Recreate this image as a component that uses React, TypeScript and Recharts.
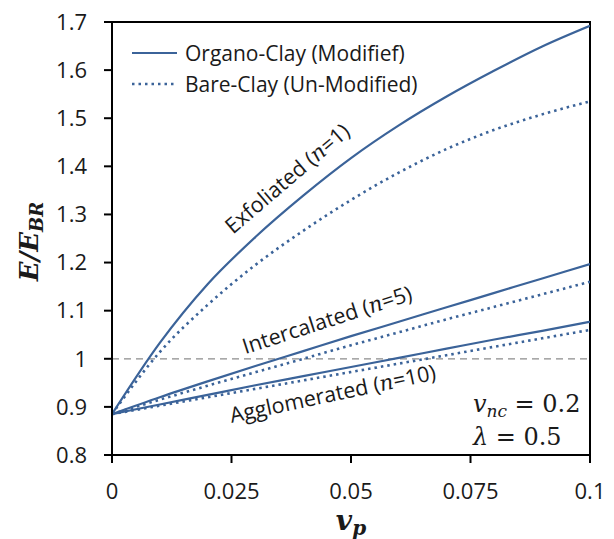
import {
  LineChart, Line, XAxis, YAxis, ReferenceLine, ReferenceArea, ReferenceDot, Legend, Label,
} from 'recharts'

// volume fraction of particles
const vp = [0, 0.01, 0.02, 0.03, 0.04, 0.05, 0.06, 0.07, 0.08, 0.09, 0.1]

// normalised modulus E/E_BR for each morphology
const exfoliatedOrgano = [0.885, 1.033, 1.155, 1.253, 1.339, 1.417, 1.485, 1.545, 1.599, 1.649, 1.692]
const exfoliatedBare = [0.885, 1.014, 1.112, 1.195, 1.266, 1.330, 1.387, 1.436, 1.476, 1.508, 1.535]
const intercalatedOrgano = [0.885, 0.920, 0.953, 0.985, 1.016, 1.047, 1.077, 1.107, 1.137, 1.167, 1.197]
const intercalatedBare = [0.885, 0.915, 0.944, 0.972, 1.000, 1.028, 1.055, 1.082, 1.108, 1.134, 1.160]
const agglomeratedOrgano = [0.885, 0.905, 0.925, 0.945, 0.964, 0.983, 1.002, 1.021, 1.040, 1.058, 1.077]
const agglomeratedBare = [0.885, 0.9025, 0.920, 0.9375, 0.955, 0.9725, 0.990, 1.0075, 1.025, 1.0425, 1.060]

const xTicks = [0, 0.025, 0.05, 0.075, 0.1]
const yTicks = [0.8, 0.9, 1, 1.1, 1.2, 1.3, 1.4, 1.5, 1.6, 1.7]

const legendNames = ['Organo-Clay (Modifief)', 'Bare-Clay (Un-Modified)']

const series = [
  { key: 'exO', values: exfoliatedOrgano, dotted: false },
  { key: 'exB', values: exfoliatedBare, dotted: true },
  { key: 'inO', values: intercalatedOrgano, dotted: false },
  { key: 'inB', values: intercalatedBare, dotted: true },
  { key: 'agO', values: agglomeratedOrgano, dotted: false },
  { key: 'agB', values: agglomeratedBare, dotted: true },
]

// curve labels, anchored at the middle of their baseline
const curveNotes = [
  { name: 'Exfoliated', n: 1, vp: 0.0377, e: 1.363, angle: -40.5 },
  { name: 'Intercalated', n: 5, vp: 0.0455, e: 1.066, angle: -18 },
  { name: 'Agglomerated', n: 10, vp: 0.0465, e: 0.912, angle: -12 },
]

const vnc = 0.2
const lambda = 0.5

const rows = vp.map((x, i) => {
  const r: Record<string, number> = { vp: x }
  series.forEach(s => { r[s.key] = s.values[i] })
  return r
})

const BLUE = '#3b6399'
const INK = '#1a1a1a'
const SANS = '"Open Sans", "Noto Sans", sans-serif'
const SERIF = '"DejaVu Serif", serif'
const DOTS = '2.5 4'

const fmtY = (v: number) => String(Number(v.toFixed(1)))

function LegendBox() {
  return (
    <div style={{ fontFamily: SANS, fontSize: 21, color: INK }}>
      {legendNames.map((name, i) => (
        <div key={name} style={{ display: 'flex', alignItems: 'center', height: 31 }}>
          <svg width={45} height={6}>
            <line x1={0} y1={3} x2={45} y2={3} stroke={BLUE} strokeWidth={i === 0 ? 2.2 : 2.6}
              strokeDasharray={i === 0 ? undefined : DOTS} />
          </svg>
          <span style={{ marginLeft: 8, whiteSpace: 'nowrap' }}>{name}</span>
        </div>
      ))}
    </div>
  )
}

// eslint-disable-next-line @typescript-eslint/no-explicit-any
const noteContent = (note: typeof curveNotes[number]) => (props: any) => {
  const { x, y, width, height } = props.viewBox
  const cx = x + width / 2
  const cy = y + height / 2
  return (
    <text transform={`translate(${cx},${cy}) rotate(${note.angle})`} textAnchor="middle"
      fontFamily={SANS} fontSize={21.5} fill={INK}>
      {note.name} (
      <tspan fontFamily={SERIF} fontStyle="italic">n</tspan>
      ={note.n})
    </text>
  )
}

// eslint-disable-next-line @typescript-eslint/no-explicit-any
const paramContent = (props: any) => {
  const { x, y, width, height } = props.viewBox
  const cx = x + width / 2
  const cy = y + height / 2
  return (
    <g fontFamily={SERIF} fontSize={24} fill={INK}>
      <text x={cx} y={cy}>
        <tspan fontStyle="italic">v</tspan>
        <tspan fontStyle="italic" fontSize={17} dy={5}>nc</tspan>
        <tspan dy={-5}> = {vnc}</tspan>
      </text>
      <text x={cx} y={cy + 33}>
        <tspan fontStyle="italic">λ</tspan>
        <tspan> = {lambda}</tspan>
      </text>
    </g>
  )
}

// eslint-disable-next-line @typescript-eslint/no-explicit-any
const xTitle = (props: any) => {
  const { x, y, width } = props.viewBox
  return (
    <text x={x + width / 2} y={y + 75} textAnchor="middle" fontFamily={SERIF}
      fontWeight="bold" fontStyle="italic" fontSize={28} fill={INK}>
      v<tspan fontSize={20} dy={5}>p</tspan>
    </text>
  )
}

// eslint-disable-next-line @typescript-eslint/no-explicit-any
const yTitle = (props: any) => {
  const { y, height } = props.viewBox
  return (
    <text transform={`translate(38,${y + height / 2 + 3}) rotate(-90)`} textAnchor="middle"
      fontFamily={SERIF} fontWeight="bold" fontStyle="italic" fontSize={26} fill={INK}>
      E/E<tspan fontSize={18} dy={5}>BR</tspan>
    </text>
  )
}

export default function App() {
  return (
    <div style={{ position: 'absolute', left: 0, top: 0, background: '#fff' }}>
      <LineChart width={614} height={539} data={rows}
        margin={{ top: 22, right: 24, bottom: 0, left: 0 }}>
        <XAxis dataKey="vp" type="number" domain={[0, 0.1]} ticks={xTicks}
          tickFormatter={(v: number) => String(v)} height={84}
          tick={{ fill: INK, fontSize: 22, fontFamily: SANS }}
          axisLine={{ stroke: '#000', strokeWidth: 2 }} tickLine={{ stroke: '#000', strokeWidth: 2 }}
          tickSize={8} tickMargin={20} allowDataOverflow>
          <Label content={xTitle} />
        </XAxis>
        <YAxis type="number" domain={[0.8, 1.7]} ticks={yTicks} tickFormatter={fmtY} width={112}
          tick={{ fill: INK, fontSize: 22, fontFamily: SANS }}
          axisLine={{ stroke: '#000', strokeWidth: 2 }} tickLine={{ stroke: '#000', strokeWidth: 2 }}
          tickSize={8} tickMargin={17} allowDataOverflow>
          <Label content={yTitle} />
        </YAxis>

        <ReferenceLine y={1} stroke="#8c8c8c" strokeWidth={1.2} strokeDasharray="7 5" />

        {series.map(s => (
          <Line key={s.key} dataKey={s.key} type="monotone" stroke={BLUE}
            strokeWidth={s.dotted ? 2.6 : 2.2} strokeDasharray={s.dotted ? DOTS : undefined}
            dot={false} activeDot={false} isAnimationActive={false} />
        ))}

        {/* plot frame */}
        <ReferenceArea x1={0} x2={0.1} y1={0.8} y2={1.7} fill="none" fillOpacity={0}
          stroke="#000" strokeWidth={2} strokeOpacity={1} />

        {curveNotes.map(note => (
          <ReferenceDot key={note.name} x={note.vp} y={note.e} r={1} fill="none" stroke="none"
            label={{ content: noteContent(note) }} />
        ))}
        <ReferenceDot x={0.0755} y={0.8896} r={1} fill="none" stroke="none"
          label={{ content: paramContent }} />

        <Legend layout="vertical" align="center" verticalAlign="middle"
          wrapperStyle={{ top: 37, left: 132, width: 'auto' }} content={<LegendBox />} />
      </LineChart>
    </div>
  )
}
